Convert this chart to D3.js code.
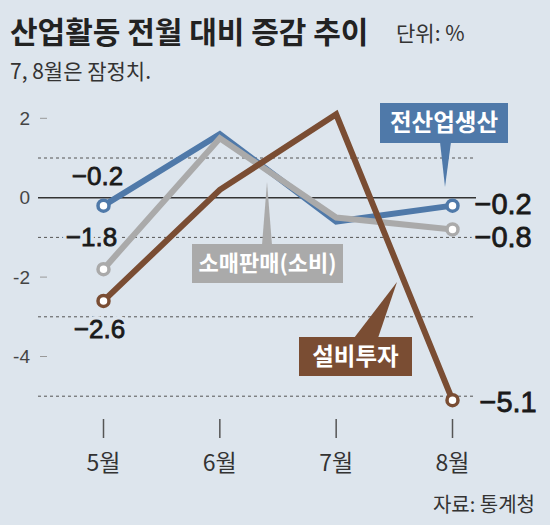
<!DOCTYPE html>
<html>
<head>
<meta charset="utf-8">
<script src="https://cdn.jsdelivr.net/npm/d3@7"></script>
<style>
  body { margin: 0; background: #dde5ed; }
  text { font-family: "Liberation Sans", "Noto Sans CJK KR", sans-serif; }
  .kr { font-family: "Noto Sans CJK KR", sans-serif; }
</style>
</head>
<body>
<div id="chart"></div>
<script>
// data
const months = ["5월", "6월", "7월", "8월"];
const production = [-0.2, 1.6, -0.6, -0.2];   // 전산업생산
const retail = [-1.8, 1.5, -0.5, -0.8];       // 소매판매(소비)
const investment = [-2.6, 0.2, 2.1, -5.1];    // 설비투자
const yTicks = [2, 0, -2, -4];
const dashedLines = [1, -1, -3, -5];

const bg = "#dde5ed";
const colors = { production: "#4f79a9", retail: "#aaaaaa", investment: "#7a4d33" };

const width = 550, height = 525;

const svg = d3.select("#chart")
  .append("svg")
  .attr("width", width)
  .attr("height", height);

svg.append("rect").attr("width", width).attr("height", height).attr("fill", bg);

const x = d3.scalePoint().domain(months).range([103.5, 452.5]);
const y = d3.scaleLinear().domain([-5, 2]).range([396.2, 118.3]);

// title
svg.append("text").attr("class", "kr")
  .attr("x", 10).attr("y", 43)
  .attr("font-size", 30).attr("font-weight", "bold")
  .attr("fill", "#222")
  .text("산업활동 전월 대비 증감 추이");
svg.append("text").attr("class", "kr")
  .attr("x", 396).attr("y", 41)
  .attr("font-size", 21).attr("fill", "#333")
  .text("단위: %");
svg.append("text").attr("class", "kr")
  .attr("x", 10).attr("y", 79)
  .attr("font-size", 21).attr("fill", "#333")
  .text("7, 8월은 잠정치.");

// grid
const grid = svg.append("g");
grid.selectAll("line.dash").data(dashedLines).enter()
  .append("line")
  .attr("x1", 38).attr("x2", 476)
  .attr("y1", d => y(d)).attr("y2", d => y(d))
  .attr("stroke", "#555").attr("stroke-width", 1)
  .attr("stroke-dasharray", "3,3");
grid.append("line")
  .attr("x1", 38).attr("x2", 476)
  .attr("y1", y(0)).attr("y2", y(0))
  .attr("stroke", "#333").attr("stroke-width", 1.5);

// y ticks
const yAxis = svg.append("g");
yAxis.selectAll("text").data(yTicks).enter()
  .append("text")
  .attr("x", 30).attr("y", d => y(d))
  .attr("dy", "0.35em")
  .attr("text-anchor", "end")
  .attr("font-size", 19).attr("fill", "#444")
  .text(d => d < 0 ? "-" + Math.abs(d) : d);
yAxis.selectAll("line").data(yTicks.filter(d => d !== 0)).enter()
  .append("line")
  .attr("x1", 40).attr("x2", 47)
  .attr("y1", d => y(d)).attr("y2", d => y(d))
  .attr("stroke", "#999").attr("stroke-width", 1);

// x ticks
const xAxis = svg.append("g");
xAxis.selectAll("line").data(months).enter()
  .append("line")
  .attr("x1", d => x(d)).attr("x2", d => x(d))
  .attr("y1", 419).attr("y2", 438)
  .attr("stroke", "#555").attr("stroke-width", 1.5);
xAxis.selectAll("text").data(months).enter()
  .append("text").attr("class", "kr")
  .attr("x", d => x(d)).attr("y", 463)
  .attr("dy", "0.36em")
  .attr("text-anchor", "middle")
  .attr("font-size", 23).attr("fill", "#333")
  .text(d => d);

svg.append("text").attr("class", "kr")
  .attr("x", 535).attr("y", 512)
  .attr("text-anchor", "end")
  .attr("font-size", 20).attr("fill", "#333")
  .text("자료: 통계청");

const fmt = v => (v < 0 ? "\u2212" : "") + Math.abs(v).toFixed(1);

// value labels (with background halo so they cut the dashed lines)
function valueLabel(series, i, dx, dy, anchor, size) {
  const g = svg.append("g");
  const tx = x(months[i]) + dx, ty = y(series[i]) + dy;
  g.append("text")
    .attr("x", tx).attr("y", ty).attr("dy", "0.35em")
    .attr("text-anchor", anchor).attr("font-size", size)
    .attr("fill", bg).attr("stroke", bg).attr("stroke-width", 8)
    .text(fmt(series[i]));
  g.append("text")
    .attr("x", tx).attr("y", ty).attr("dy", "0.35em")
    .attr("text-anchor", anchor).attr("font-size", size)
    .attr("fill", "#1a1a1a").attr("stroke", "#1a1a1a").attr("stroke-width", 0.8)
    .text(fmt(series[i]));
}
valueLabel(production, 0, -6, -30, "middle", 26);
valueLabel(retail, 0, -12, -32, "middle", 26);
valueLabel(investment, 0, -4, 28, "middle", 26);
valueLabel(production, 3, 22, -2, "start", 29);
valueLabel(retail, 3, 22, 7, "start", 29);
valueLabel(investment, 3, 27, 2, "start", 29);

// lines
const line = d3.line().x((d, i) => x(months[i])).y(d => y(d));
const seriesList = [
  { key: "production", values: production },
  { key: "retail", values: retail },
  { key: "investment", values: investment }
];
seriesList.forEach(s => {
  svg.append("path")
    .datum(s.values)
    .attr("d", line)
    .attr("fill", "none")
    .attr("stroke", colors[s.key])
    .attr("stroke-width", 6)
    .attr("stroke-linejoin", "miter");
});

// end points (first and last month)
seriesList.forEach(s => {
  svg.selectAll(null).data([0, 3]).enter()
    .append("circle")
    .attr("cx", i => x(months[i]))
    .attr("cy", i => y(s.values[i]))
    .attr("r", 5.5)
    .attr("fill", "white")
    .attr("stroke", colors[s.key])
    .attr("stroke-width", 3.5);
});

// callout boxes
function callout(label, color, box, pointer, size) {
  const g = svg.append("g");
  g.append("polygon")
    .attr("points", pointer.map(p => p.join(",")).join(" "))
    .attr("fill", color);
  g.append("rect")
    .attr("x", box[0]).attr("y", box[1])
    .attr("width", box[2]).attr("height", box[3])
    .attr("fill", color);
  g.append("text").attr("class", "kr")
    .attr("x", box[0] + box[2] / 2).attr("y", box[1] + box[3] / 2)
    .attr("dy", "0.36em")
    .attr("text-anchor", "middle")
    .attr("font-size", size).attr("font-weight", "bold")
    .attr("fill", "white")
    .text(label);
}
callout("전산업생산", colors.production, [380, 103, 128, 40],
  [[440, 142], [451, 142], [445, 187]], 23.5);
callout("소매판매(소비)", colors.retail, [192, 244, 151, 39],
  [[262, 245], [272, 245], [267, 182]], 22);
callout("설비투자", colors.investment, [299, 337, 113, 39],
  [[354, 338], [378, 338], [397, 282]], 23.5);
</script>
</body>
</html>
